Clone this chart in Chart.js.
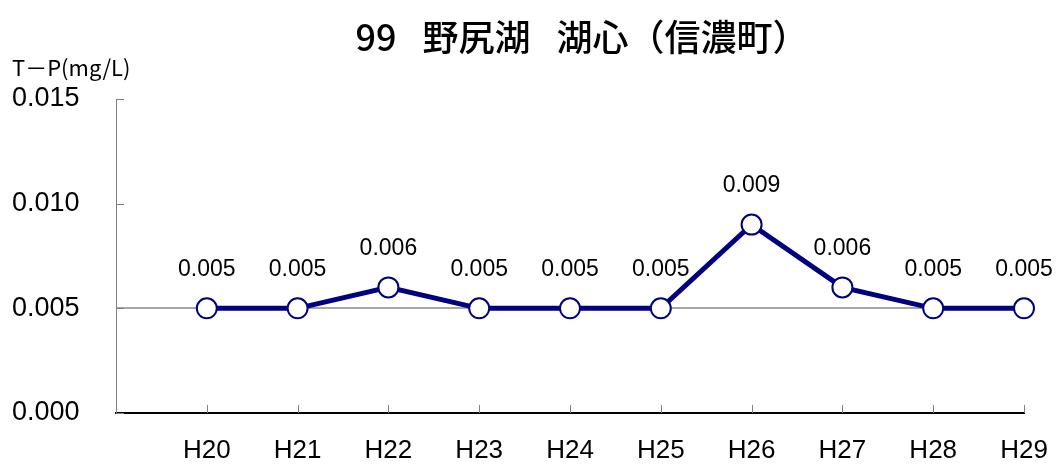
<!DOCTYPE html>
<html lang="ja">
<head>
<meta charset="utf-8">
<title>99 野尻湖 湖心（信濃町）</title>
<script src="https://cdn.jsdelivr.net/npm/chart.js@4/dist/chart.umd.min.js"></script>
<style>
    html, body { margin: 0; padding: 0; background: #fff; }
    #wrap { width: 1062px; height: 471px; }
</style>
</head>
<body>
<div id="wrap"><canvas id="tpChart" width="1062" height="471"></canvas></div>
<script>
// Yearly T-P values (mg/L)
const years = ['H20', 'H21', 'H22', 'H23', 'H24', 'H25', 'H26', 'H27', 'H28', 'H29'];
const tpValues = [0.005, 0.005, 0.006, 0.005, 0.005, 0.005, 0.009, 0.006, 0.005, 0.005];
const yTicks = [0.000, 0.005, 0.010, 0.015];

const chartTitle = '99\u2002 野尻湖\u2002 湖心（信濃町）';
const yTitle = 'T－P(mg/L)';

const NAVY = '#000080';
const latin = '"Liberation Sans", Arial, sans-serif';
const cjk = '"Noto Sans CJK JP", sans-serif';

// Title, axis caption, inward tick marks and value labels
const decorations = {
    id: 'decorations',
    beforeDatasetsDraw(chart) {
        const { ctx, chartArea, scales } = chart;
        ctx.save();
        ctx.strokeStyle = '#808080';
        ctx.lineWidth = 1;
        yTicks.forEach(v => {
            const y = Math.round(scales.y.getPixelForValue(v)) + 0.5;
            ctx.beginPath();
            ctx.moveTo(chartArea.left, y);
            ctx.lineTo(chartArea.left + 8, y);
            ctx.stroke();
        });
        for (let i = 0; i < years.length; i++) {
            const x = Math.round(scales.x.getPixelForValue(i)) + 0.5;
            ctx.beginPath();
            ctx.moveTo(x, chartArea.bottom);
            ctx.lineTo(x, chartArea.bottom - 8);
            ctx.stroke();
        }
        ctx.restore();
    },
    afterDraw(chart) {
        const { ctx } = chart;
        ctx.save();
        ctx.fillStyle = '#000';
        ctx.textAlign = 'center';
        ctx.textBaseline = 'middle';
        ctx.font = '500 36px ' + cjk;
        ctx.fillText(chartTitle, 582, 37);

        ctx.textAlign = 'left';
        ctx.font = '22px ' + cjk;
        ctx.fillText(yTitle, 12, 68);

        ctx.textAlign = 'center';
        ctx.font = '23px ' + latin;
        chart.getDatasetMeta(0).data.forEach((pt, i) => {
            ctx.fillText(tpValues[i].toFixed(3), pt.x, pt.y - 39);
        });
        ctx.restore();
    }
};

new Chart(document.getElementById('tpChart'), {
    type: 'line',
    data: {
        datasets: [{
            data: tpValues.map((v, i) => ({ x: i, y: v })),
            borderColor: NAVY,
            borderWidth: 5,
            pointRadius: 10,
            pointBorderWidth: 2,
            pointBackgroundColor: '#fff',
            pointBorderColor: NAVY,
            tension: 0,
            clip: false
        }]
    },
    options: {
        responsive: false,
        animation: false,
        layout: { padding: { left: 12, right: 38, top: 99, bottom: 0 } },
        plugins: {
            legend: { display: false },
            tooltip: { enabled: false },
            title: { display: false }
        },
        scales: {
            x: {
                type: 'linear',
                min: -1,
                max: years.length - 1,
                afterFit(scale) {
                    scale.height = 58;
                    scale.paddingLeft = 0;
                    scale.paddingRight = 0;
                },
                afterBuildTicks(scale) {
                    scale.ticks = years.map((_, i) => ({ value: i }));
                },
                grid: { display: false, drawTicks: false },
                border: { color: '#000', width: 2 },
                ticks: {
                    autoSkip: false,
                    maxRotation: 0,
                    padding: 22,
                    color: '#000',
                    font: { family: latin, size: 26 },
                    callback: v => years[v] ?? ''
                }
            },
            y: {
                min: 0,
                max: 0.015,
                afterFit(scale) {
                    scale.width = 104;
                    scale.paddingTop = 0;
                    scale.paddingBottom = 0;
                },
                afterBuildTicks(scale) {
                    scale.ticks = yTicks.map(v => ({ value: v }));
                },
                grid: {
                    drawTicks: false,
                    color: c => Math.abs(c.tick.value - 0.005) < 1e-9 ? '#a6a6a6' : 'rgba(0,0,0,0)',
                    lineWidth: 2
                },
                border: { color: '#808080', width: 1 },
                ticks: {
                    crossAlign: 'far',
                    color: '#000',
                    font: { family: latin, size: 27 },
                    callback: v => v.toFixed(3)
                }
            }
        }
    },
    plugins: [decorations]
});
</script>
</body>
</html>
